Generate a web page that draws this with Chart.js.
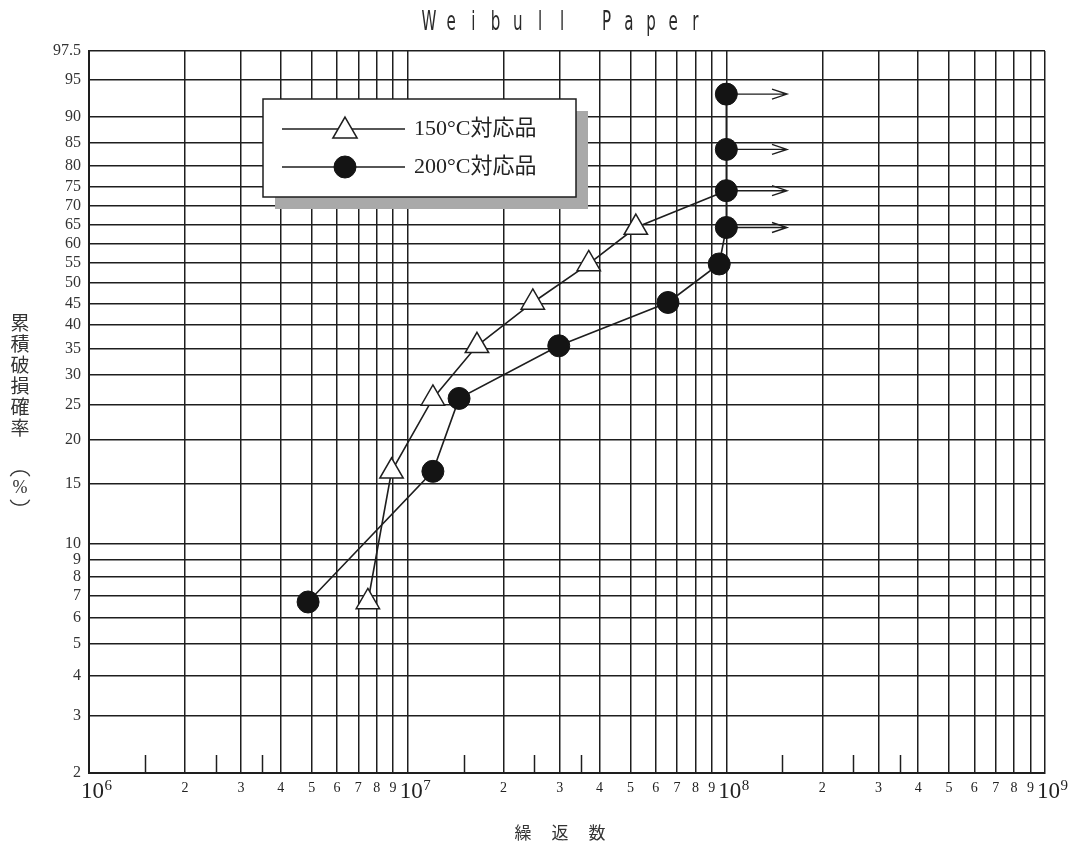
<!DOCTYPE html>
<html>
<head>
<meta charset="utf-8">
<script src="https://cdn.jsdelivr.net/npm/chart.js@4.4.1/dist/chart.umd.min.js"></script>
<style>
  html, body { margin: 0; background: #fff; }
</style>
</head>
<body>
<canvas id="weibull" width="1071" height="848"></canvas>
<script>
/* ---- データ ---- */
const probTicks = [2, 3, 4, 5, 6, 7, 8, 9, 10, 15, 20, 25, 30, 35, 40, 45, 50, 55, 60, 65, 70, 75, 80, 85, 90, 95, 97.5];
const cycleTicks = [
  1e6, 2e6, 3e6, 4e6, 5e6, 6e6, 7e6, 8e6, 9e6,
  1e7, 2e7, 3e7, 4e7, 5e7, 6e7, 7e7, 8e7, 9e7,
  1e8, 2e8, 3e8, 4e8, 5e8, 6e8, 7e8, 8e8, 9e8,
  1e9,
];
const halfTicks = [1.5e6, 2.5e6, 3.5e6, 1.5e7, 2.5e7, 3.5e7, 1.5e8, 2.5e8, 3.5e8];

// 累積破損確率 (メディアンランク, n=10)
const rankPct = [6.7, 16.3, 26.0, 35.6, 45.2, 54.8, 64.4, 74.0, 83.7, 93.3];
const cycles150 = [7.5e6, 8.9e6, 1.2e7, 1.65e7, 2.47e7, 3.7e7, 5.2e7, 1.0e8];
const cycles200 = [4.87e6, 1.2e7, 1.45e7, 2.98e7, 6.56e7, 9.5e7, 1.0e8, 1.0e8, 1.0e8, 1.0e8];

// 打ち切り (矢印)
const runoutPct = [64.4, 74.0, 83.7, 93.3];
const runoutFrom = 1.0e8;
const runoutTo = 1.55e8;

const seriesNames = ["150°C対応品", "200°C対応品"];
const chartTitle = "Weibull Paper";
const xTitle = "繰返数";
const yTitleText = "累積破損確率";

/* ---- 変換 ---- */
const wb = (p) => Math.log(-Math.log(1 - p / 100));
const isDecade = (v) => {
  const e = Math.log10(v);
  return Math.abs(e - Math.round(e)) < 1e-9;
};
const cycleLabel = (v) => {
  if (isDecade(v)) return "";   // 10^n はプラグインで描く
  const e = Math.floor(Math.log10(v) + 1e-9);
  return String(Math.round(v / Math.pow(10, e)));
};

const INK = "#1e1e1e";
const SERIF = "'Liberation Serif', 'Noto Sans CJK JP', serif";

/* ---- プラグイン ---- */
const paperTitle = {
  id: "paperTitle",
  afterDraw(chart) {
    const ctx = chart.ctx;
    const pitch = 22.2, x0 = 429, y = 23;
    ctx.save();
    ctx.fillStyle = "#2a2a2a";
    ctx.font = "26px 'DejaVu Sans'";
    ctx.textAlign = "center";
    ctx.textBaseline = "middle";
    chartTitle.split("").forEach((c, i) => {
      if (c === " ") return;
      ctx.save();
      ctx.translate(x0 + i * pitch, y);
      ctx.scale(0.58, 1);
      ctx.fillText(c, 0, 0);
      ctx.restore();
    });
    ctx.restore();
  },
};

const axisTitles = {
  id: "axisTitles",
  afterDraw(chart) {
    const ctx = chart.ctx;
    ctx.save();
    ctx.fillStyle = "#333";
    ctx.textAlign = "center";
    ctx.textBaseline = "middle";
    ctx.font = "19px 'Noto Sans CJK JP'";
    yTitleText.split("").forEach((c, i) => ctx.fillText(c, 20, 323 + i * 21));
    ctx.font = "18px " + SERIF;
    ctx.fillText("%", 20, 488);
    ctx.lineWidth = 1.3;
    ctx.strokeStyle = "#333";
    ctx.beginPath();
    ctx.ellipse(20, 478, 10, 7, 0, Math.PI * 1.08, Math.PI * 1.92);
    ctx.stroke();
    ctx.beginPath();
    ctx.ellipse(20, 498, 10, 7, 0, Math.PI * 0.08, Math.PI * 0.92);
    ctx.stroke();

    ctx.font = "17px 'Noto Sans CJK JP'";
    xTitle.split("").forEach((c, i) => ctx.fillText(c, 523 + i * 37, 833));
    ctx.restore();
  },
};

const decadeLabels = {
  id: "decadeLabels",
  afterDraw(chart) {
    const { ctx, scales: { x }, chartArea } = chart;
    ctx.save();
    ctx.fillStyle = "#222";
    ctx.textAlign = "left";
    ctx.textBaseline = "alphabetic";
    x.ticks.forEach((t) => {
      if (!isDecade(t.value)) return;
      const gx = x.getPixelForValue(t.value);
      ctx.font = "23px " + SERIF;
      ctx.fillText("10", gx - 8, chartArea.bottom + 25);
      const w = ctx.measureText("10").width;
      ctx.font = "15px " + SERIF;
      ctx.fillText(String(Math.round(Math.log10(t.value))), gx - 8 + w + 0.5, chartArea.bottom + 17);
    });
    ctx.restore();
  },
};

const halfTickMarks = {
  id: "halfTickMarks",
  beforeDatasetsDraw(chart) {
    const { ctx, scales: { x }, chartArea } = chart;
    ctx.save();
    ctx.strokeStyle = INK;
    ctx.lineWidth = 1.5;
    halfTicks.forEach((v) => {
      const px = Math.round(x.getPixelForValue(v)) + 0.5;
      ctx.beginPath();
      ctx.moveTo(px, chartArea.bottom);
      ctx.lineTo(px, chartArea.bottom - 18);
      ctx.stroke();
    });
    ctx.restore();
  },
};

const runoutArrows = {
  id: "runoutArrows",
  beforeDatasetsDraw(chart) {
    const { ctx, scales: { x, y } } = chart;
    const x0 = x.getPixelForValue(runoutFrom);
    const x1 = x.getPixelForValue(runoutTo);
    ctx.save();
    ctx.strokeStyle = INK;
    ctx.lineWidth = 1.4;
    runoutPct.forEach((p) => {
      const py = y.getPixelForValue(wb(p));
      ctx.beginPath();
      ctx.moveTo(x0, py);
      ctx.lineTo(x1, py);
      ctx.moveTo(x1 - 15, py - 5);
      ctx.lineTo(x1, py);
      ctx.lineTo(x1 - 15, py + 5);
      ctx.stroke();
    });
    ctx.restore();
  },
};

const boxLegend = {
  id: "boxLegend",
  afterDraw(chart) {
    const ctx = chart.ctx;
    const bx = 263, by = 99, bw = 313, bh = 98, sh = 12;
    ctx.save();
    ctx.fillStyle = "#a9a9a9";
    ctx.fillRect(bx + sh, by + sh, bw, bh);
    ctx.fillStyle = "#fff";
    ctx.fillRect(bx, by, bw, bh);
    ctx.strokeStyle = INK;
    ctx.lineWidth = 1.5;
    ctx.strokeRect(bx, by, bw, bh);

    chart.data.datasets.slice().sort((a, b) => a.legendRank - b.legendRank).forEach((ds, i) => {
      const ry = 129 + i * 38;
      ctx.strokeStyle = INK;
      ctx.lineWidth = 1.4;
      ctx.beginPath();
      ctx.moveTo(282, ry);
      ctx.lineTo(405, ry);
      ctx.stroke();
      ctx.fillStyle = ds.pointBackgroundColor;
      ctx.strokeStyle = ds.pointBorderColor;
      ctx.lineWidth = ds.pointBorderWidth;
      Chart.helpers.drawPoint(ctx, {
        pointStyle: ds.pointStyle,
        radius: ds.legendRadius,
        rotation: 0,
        borderWidth: ds.pointBorderWidth,
      }, 345, ry + (ds.pointStyle === "triangle" ? 2 : 0));
      ctx.fillStyle = "#222";
      ctx.font = "22px " + SERIF;
      ctx.textAlign = "left";
      ctx.textBaseline = "middle";
      ctx.fillText(ds.label, 414, ry);
    });
    ctx.restore();
  },
};

/* ---- グラフ ---- */
const ds150 = {
  label: seriesNames[0],
  legendRank: 0,
  legendRadius: 14,
  data: cycles150.map((c, i) => ({ x: c, y: wb(rankPct[i]) })),
  borderColor: INK,
  borderWidth: 1.6,
  pointStyle: "triangle",
  pointRadius: cycles150.map((c, i) => (i === cycles150.length - 1 ? 0 : 13.5)),
  pointBackgroundColor: "#fff",
  pointBorderColor: INK,
  pointBorderWidth: 1.5,
  tension: 0,
  order: 1,
};
const ds200 = {
  label: seriesNames[1],
  legendRank: 1,
  legendRadius: 11,
  data: cycles200.map((c, i) => ({ x: c, y: wb(rankPct[i]) })),
  borderColor: INK,
  borderWidth: 1.6,
  pointStyle: "circle",
  pointRadius: 11,
  pointBackgroundColor: "#141414",
  pointBorderColor: "#141414",
  pointBorderWidth: 1,
  tension: 0,
  order: 0,
};

new Chart(document.getElementById("weibull"), {
  type: "line",
  data: { datasets: [ds150, ds200] },
  plugins: [paperTitle, axisTitles, decadeLabels, halfTickMarks, runoutArrows, boxLegend],
  options: {
    responsive: false,
    animation: false,
    layout: { padding: { top: 51, right: 26, left: 0, bottom: 0 } },
    plugins: { legend: { display: false }, tooltip: { enabled: false } },
    scales: {
      x: {
        type: "logarithmic",
        min: 1e6,
        max: 1e9,
        afterBuildTicks: (s) => { s.ticks = cycleTicks.map((v) => ({ value: v })); },
        afterFit: (s) => { s.height = 75; s.paddingLeft = 0; s.paddingRight = 0; },
        grid: { color: INK, lineWidth: 1.5, drawTicks: false },
        border: { color: INK, width: 2 },
        ticks: {
          autoSkip: false,
          maxRotation: 0,
          padding: 7,
          color: "#222",
          callback: (v) => cycleLabel(v),
          font: { family: SERIF, size: 14, lineHeight: 1.2 },
        },
      },
      y: {
        type: "linear",
        min: wb(2),
        max: wb(97.5),
        afterBuildTicks: (s) => { s.ticks = probTicks.map((p) => ({ value: wb(p) })); },
        afterFit: (s) => { s.width = 89; },
        grid: { color: INK, lineWidth: 1.5, drawTicks: false },
        border: { color: INK, width: 2 },
        ticks: {
          autoSkip: false,
          padding: 8,
          color: "#333",
          callback: (v, i) => String(probTicks[i]),
          font: { family: SERIF, size: 16 },
        },
      },
    },
  },
});
</script>
</body>
</html>
